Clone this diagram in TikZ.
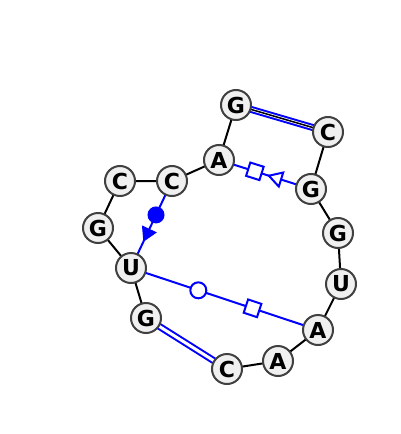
\documentclass[tikz,border=0pt]{standalone}
\usepackage{fontspec}
\setmainfont{DejaVu Sans}
\usetikzlibrary{shapes.geometric}
\definecolor{nfill}{HTML}{F0F0F0}
\definecolor{nborder}{HTML}{404040}
\tikzset{
  x=1pt,y=-1pt,
  nt/.style={circle, draw=nborder, fill=nfill, line width=2pt, minimum size=30pt, inner sep=0pt, font=\fontsize{22}{22}\selectfont\bfseries},
  bb/.style={black, line width=2pt},
  pr/.style={blue, line width=2pt},
  dpr/.style={blue, line width=2pt, double=white, double distance=3pt},
  sqm/.style={draw=blue, fill=white, line width=2pt, minimum size=14pt, inner sep=0pt, rectangle, sloped},
  ocm/.style={circle, draw=blue, fill=white, line width=2pt, minimum size=16pt, inner sep=0pt},
  fcm/.style={circle, draw=blue, fill=blue, minimum size=15pt, inner sep=0pt},
  otri/.style={regular polygon, regular polygon sides=3, draw=blue, fill=white, line width=2pt, minimum size=17pt, inner sep=0pt, sloped},
  ftri/.style={regular polygon, regular polygon sides=3, draw=blue, fill=blue, line width=1pt, minimum size=17pt, inner sep=0pt, sloped},
}
\begin{document}
\begin{tikzpicture}
\useasboundingbox (0,0) rectangle (400,434);
\coordinate (pG1) at (236,105);
\coordinate (pC2) at (328,132);
\coordinate (pA3) at (219,160);
\coordinate (pG4) at (311,189);
\coordinate (pC5) at (172,181);
\coordinate (pC6) at (120,181);
\coordinate (pG7) at (98,228);
\coordinate (pG8) at (338,233);
\coordinate (pU9) at (131,268);
\coordinate (pU10) at (341,284);
\coordinate (pG11) at (146,318);
\coordinate (pA12) at (318,330);
\coordinate (pA13) at (278,361);
\coordinate (pC14) at (227,369);
% base pairs
\draw[dpr] (pG1) -- (pC2);
\draw[dpr] (pG11) -- (pC14);
\draw[pr] (pA3) -- node[pos=0.39, sqm] {} node[pos=0.63, otri, shape border rotate=90] {} (pG4);
\draw[pr] (pC5) -- node[pos=0.39, fcm] {} node[pos=0.6, ftri, shape border rotate=90] {} (pU9);
\draw[pr] (pU9) -- node[pos=0.36, ocm] {} node[pos=0.65, sqm] {} (pA12);
% backbone
\draw[bb] (pG1) -- (pA3) -- (pC5) -- (pC6) -- (pG7) -- (pU9) -- (pG11);
\draw[bb] (pC14) -- (pA13) -- (pA12) -- (pU10) -- (pG8) -- (pG4) -- (pC2);
\draw[black, line width=1.5pt] (pC2) -- (pG1);
% nucleotides
\node[nt] (G1) at (pG1) {G};
\node[nt] (C2) at (pC2) {C};
\node[nt] (A3) at (pA3) {A};
\node[nt] (G4) at (pG4) {G};
\node[nt] (C5) at (pC5) {C};
\node[nt] (C6) at (pC6) {C};
\node[nt] (G7) at (pG7) {G};
\node[nt] (G8) at (pG8) {G};
\node[nt] (U9) at (pU9) {U};
\node[nt] (U10) at (pU10) {U};
\node[nt] (G11) at (pG11) {G};
\node[nt] (A12) at (pA12) {A};
\node[nt] (A13) at (pA13) {A};
\node[nt] (C14) at (pC14) {C};
\end{tikzpicture}
\end{document}
